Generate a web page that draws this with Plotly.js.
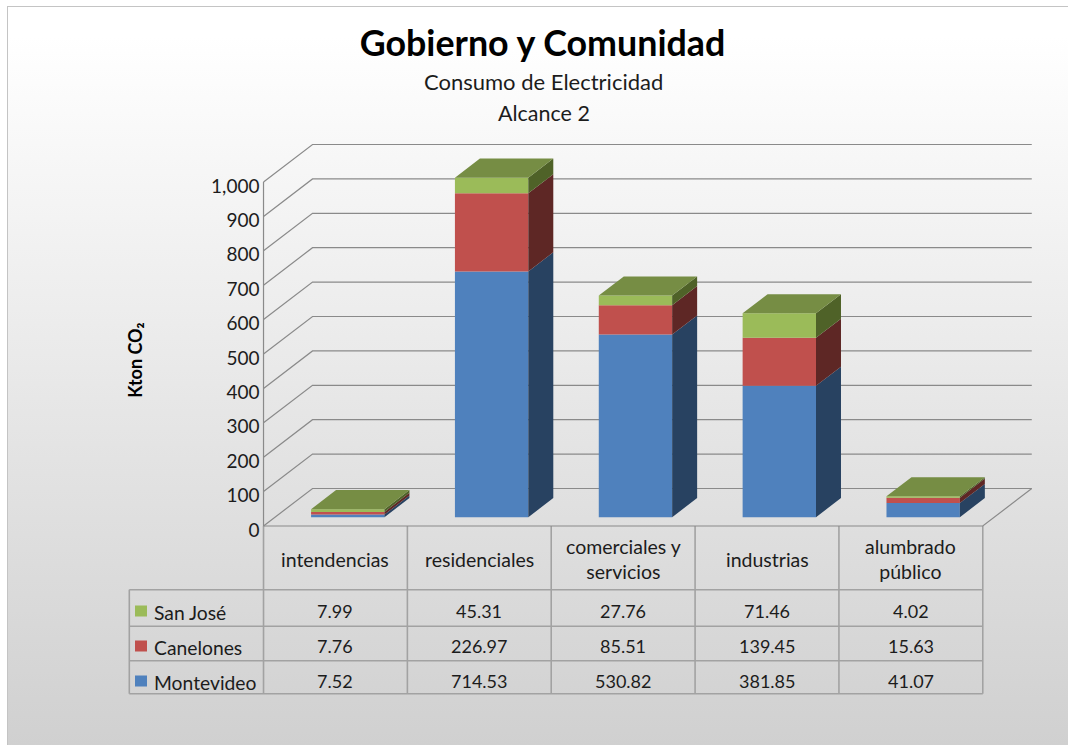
<!DOCTYPE html>
<html><head><meta charset="utf-8">
<script src="https://cdn.plot.ly/plotly-3.0.1.min.js"></script>
<style>
html,body{margin:0;padding:0;background:#fff;width:1068px;height:745px;overflow:hidden}
#bg{position:absolute;left:7px;top:6px;width:1061px;height:739px;box-sizing:border-box;border-left:1.5px solid #c4c4c4;border-top:1.5px solid #c4c4c4;background:linear-gradient(180deg,#ffffff 0%,#ffffff 4%,#d0d0d0 100%)}
#chart{position:absolute;left:0;top:0;width:1068px;height:745px}
</style></head><body><div id="bg"></div><div id="chart"></div>
<script>
const categories = ["intendencias","residenciales","comerciales y<br>servicios","industrias","alumbrado<br>público"];
const montevideo = [7.52,714.53,530.82,381.85,41.07];
const canelones  = [7.76,226.97,85.51,139.45,15.63];
const sanJose    = [7.99,45.31,27.76,71.46,4.02];
const montevideoText = ["7.52","714.53","530.82","381.85","41.07"];
const canelonesText  = ["7.76","226.97","85.51","139.45","15.63"];
const sanJoseText    = ["7.99","45.31","27.76","71.46","4.02"];
const yTicks = [0,100,200,300,400,500,600,700,800,900,1000];

const W=1068,H=745, FONT='Lato, Carlito, sans-serif', TXT='#1c1c1c';
const X0=335.45, CAT=143.85, Y0=526, PXU=0.344, PB=720;
const DX=49/CAT, DY=37.5/PXU;           // wall depth in axis units
const D0=0.235, BD=0.51, BW=0.51, BX=0.8/CAT;  // bar position/size in depth & category units
const px2x=p=>(p-X0)/CAT, py=p=>1-p/H;

const series=[
 {name:"Montevideo",v:montevideo,front:"#4F81BD",side:"#284261"},
 {name:"Canelones",v:canelones,front:"#C0504D",side:"#5E2725"},
 {name:"San José",v:sanJose,front:"#9BBB59",side:"#4F6228"}];

const traces=[], cum=categories.map(()=>0);
const sideTraces=[];
series.forEach(s=>{
  const base=cum.map(c=>c+D0*DY);
  traces.push({type:'bar',name:s.name,x:categories.map((_,i)=>i+D0*DX+BX),y:s.v,base:base,width:BW,
    marker:{color:s.front,line:{width:0}},showlegend:false,hoverinfo:'y+name'});
  const xs=[],ys=[];
  s.v.forEach((v,i)=>{
    const r=i+D0*DX+BX+BW/2, a=cum[i]+D0*DY, b=a+v;
    xs.push(r,r+BD*DX,r+BD*DX,r,r,null);
    ys.push(a,a+BD*DY,b+BD*DY,b,a,null);
    cum[i]+=v;
  });
  sideTraces.push({type:'scatter',mode:'lines',x:xs,y:ys,fill:'toself',fillcolor:s.side,line:{width:0,color:s.side},showlegend:false,hoverinfo:'skip'});
});
const tx=[],ty=[];
cum.forEach((c,i)=>{
  const l=i+D0*DX+BX-BW/2, r=l+BW, y=c+D0*DY;
  tx.push(l,r,r+BD*DX,l+BD*DX,l,null); ty.push(y,y,y+BD*DY,y+BD*DY,y,null);
});
const topTrace={type:'scatter',mode:'lines',x:tx,y:ty,fill:'toself',fillcolor:'#768D44',line:{width:0,color:'#768D44'},showlegend:false,hoverinfo:'skip'};

const shapes=[], GRID={color:'#8a8a8a',width:1.2}, TAB={color:'#a2a2a2',width:1.6};
const L=-0.5, R=categories.length-0.5;
yTicks.forEach(v=>{
  shapes.push({type:'path',layer:'below',xref:'x',yref:'y',line:GRID,
    path:`M${L},${v} L${L+DX},${v+DY} L${R+DX},${v+DY}`});
});
shapes.push({type:'line',layer:'below',xref:'x',yref:'y',x0:L,x1:L,y0:0,y1:1000,line:GRID});
shapes.push({type:'path',layer:'below',xref:'x',yref:'y',line:GRID,path:`M${L},0 L${R},0 L${R+DX},${DY}`});

const rowY=[526,589.7,626.3,660.7,693.7];
const legL=129.3;
for(let i=0;i<=categories.length;i++)
  shapes.push({type:'line',layer:'below',xref:'x',yref:'paper',x0:L+i,x1:L+i,y0:py(rowY[0]),y1:py(rowY[4]),line:TAB});
rowY.slice(1).forEach(y=>shapes.push({type:'line',layer:'below',xref:'paper',yref:'paper',x0:legL/W,x1:(X0+CAT*R)/W,y0:py(y),y1:py(y),line:TAB}));
shapes.push({type:'line',layer:'below',xref:'paper',yref:'paper',x0:legL/W,x1:legL/W,y0:py(rowY[1]),y1:py(rowY[4]),line:TAB});

const ann=[];
const A=(text,x,xref,y,size,extra)=>ann.push(Object.assign({text,x,xref,y:py(y),yref:'paper',showarrow:false,xanchor:'center',yanchor:'middle',
  font:{family:FONT,size,color:TXT}},extra||{}));
categories.forEach((c,i)=>{
  A(c,i,'x',559,19.5,{});
});
const rows=[{t:sanJoseText,y:611,key:"#9BBB59",n:"San José"},{t:canelonesText,y:646,key:"#C0504D",n:"Canelones"},{t:montevideoText,y:681,key:"#4F81BD",n:"Montevideo"}];
rows.forEach(r=>{
  r.t.forEach((t,i)=>A(t,i,'x',r.y,18));
  A(r.n,151.5/W,'paper',r.y+1,19.3,{xanchor:'left'});
  shapes.push({type:'rect',layer:'above',xref:'paper',yref:'paper',x0:135/W,x1:147/W,y0:py(r.y-5.5),y1:py(r.y+5.5),fillcolor:r.key,line:{width:0}});
});
A("Consumo de Electricidad",543/W,'paper',81.5,22);
A("Alcance 2",543.5/W,'paper',112.5,21.5);

const layout={width:W,height:H,margin:{l:0,r:0,t:0,b:0,pad:0},paper_bgcolor:'rgba(0,0,0,0)',plot_bgcolor:'rgba(0,0,0,0)',
  barmode:'overlay',showlegend:false,
  title:{text:"<b>Gobierno y Comunidad</b>",font:{family:FONT,size:35.8,color:'#000'},x:542.5/W,xanchor:'center',y:py(43.5),yanchor:'middle',yref:'paper'},
  xaxis:{visible:false,range:[px2x(0),px2x(W)],fixedrange:true},
  yaxis:{domain:[1-PB/H,1],range:[(Y0-PB)/PXU,Y0/PXU],anchor:'free',position:263.5/W,side:'left',showgrid:false,zeroline:false,showline:false,ticks:'',
    tickmode:'array',tickvals:yTicks,tickformat:',d',ticklabelshift:4,ticklabelstandoff:4,tickfont:{family:FONT,size:19,color:TXT},
    title:{text:"<b>Kton CO₂</b>",font:{family:FONT,size:18,color:'#000'},standoff:62},fixedrange:true},
  shapes,annotations:ann};
Plotly.newPlot('chart',[...traces,...sideTraces,topTrace],layout,{displayModeBar:false,staticPlot:true});
</script></body></html>
